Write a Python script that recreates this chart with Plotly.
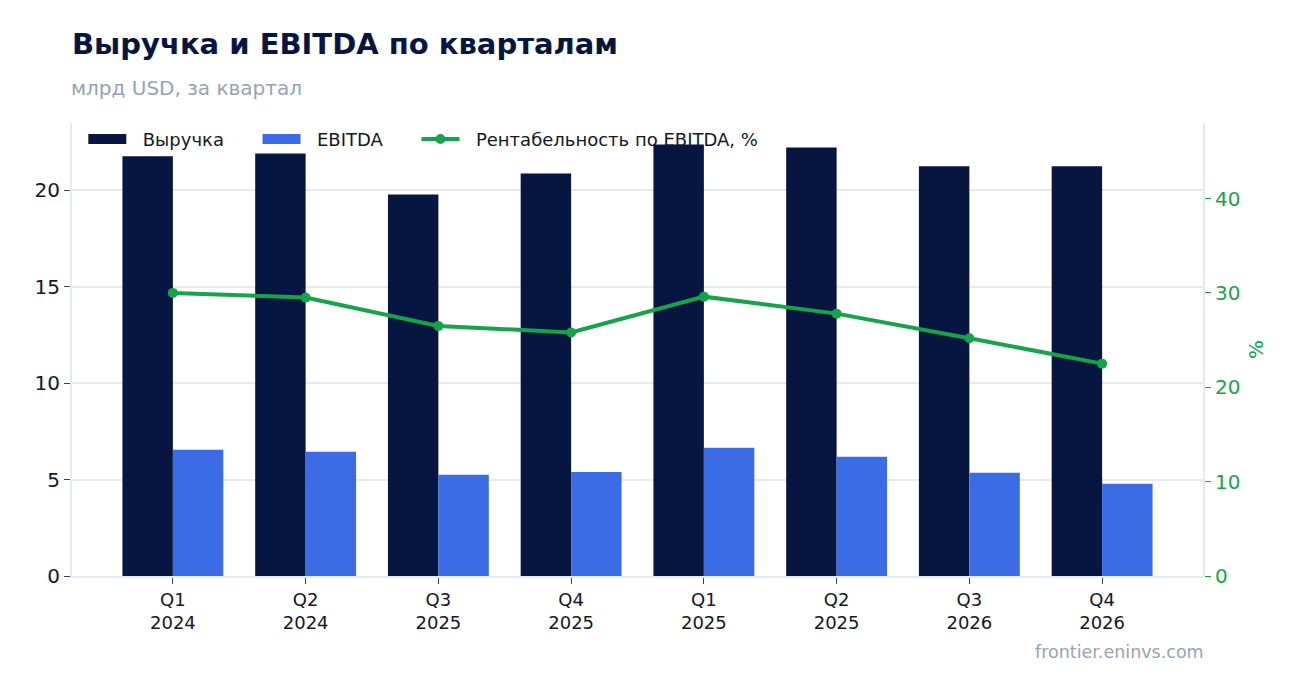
import plotly.graph_objects as go

quarters = ["Q1<br>2024", "Q2<br>2024", "Q3<br>2025", "Q4<br>2025",
            "Q1<br>2025", "Q2<br>2025", "Q3<br>2026", "Q4<br>2026"]
revenue = [21.77, 21.92, 19.79, 20.88, 22.39, 22.23, 21.25, 21.25]
ebitda = [6.55, 6.44, 5.25, 5.40, 6.65, 6.18, 5.35, 4.78]
margin = [30.0, 29.5, 26.5, 25.8, 29.6, 27.8, 25.2, 22.5]

NAVY = "#061640"
BLUE = "#3b6ce6"
GREEN = "#16a34a"
GRID = "#e5e9f0"
FONT = "DejaVu Sans"
NB = "\u00a0"

fig = go.Figure()
fig.add_trace(go.Bar(x=quarters, y=revenue, name="Выручка", marker_color=NAVY,
                     marker_line_width=0, showlegend=False))
fig.add_trace(go.Bar(x=quarters, y=ebitda, name="EBITDA", marker_color=BLUE,
                     marker_line_width=0, showlegend=False))
fig.add_trace(go.Scatter(x=quarters, y=margin, name="Рентабельность по EBITDA, %",
                         mode="lines+markers", yaxis="y2", showlegend=False,
                         line=dict(color=GREEN, width=4),
                         marker=dict(color=GREEN, size=10)))

# legend entries: wide rectangles for bars, line+marker for margin
fig.add_trace(go.Scatter(x=[None], y=[None], name=NB * 2 + "Выручка" + NB * 5, mode="lines",
                         line=dict(color=NAVY, width=13)))
fig.add_trace(go.Scatter(x=[None], y=[None], name=NB * 2 + "EBITDA" + NB * 5, mode="lines",
                         line=dict(color=BLUE, width=13)))
fig.add_trace(go.Scatter(x=[None], y=[None], name=NB * 2 + "Рентабельность по EBITDA, %",
                         mode="lines+markers", line=dict(color=GREEN, width=4),
                         marker=dict(color=GREEN, size=10)))

fig.update_layout(
    width=1302, height=693,
    paper_bgcolor="white", plot_bgcolor="white",
    font=dict(family=FONT, color="#111827"),
    margin=dict(l=64, r=107, t=115, b=125),
    barmode="group", bargap=0.24, bargroupgap=0,
    title=dict(text="<b>Выручка и EBITDA по кварталам</b>", x=64 / 1302, xanchor="left",
               y=1 - 36 / 693, yanchor="middle",
               font=dict(size=29, color=NAVY, family=FONT)),
    legend=dict(orientation="h", x=0.01, y=1.005, xanchor="left", yanchor="top",
                itemwidth=38, font=dict(size=18, color="#111827"),
                bgcolor="rgba(0,0,0,0)"),
    xaxis=dict(range=[-0.76, 7.76], showline=True, linecolor=GRID, linewidth=2,
               ticks="outside", tickcolor="#374151", ticklen=6,
               tickfont=dict(size=18, color="#111827"), showgrid=False),
    yaxis=dict(range=[0, 23.5], dtick=5, showgrid=True, gridcolor=GRID, gridwidth=2,
               showline=True, linecolor=GRID, linewidth=2, zeroline=False,
               ticks="outside", tickcolor="#374151", ticklen=6,
               tickfont=dict(size=20, color="#111827")),
    yaxis2=dict(overlaying="y", side="right", range=[0, 48], dtick=10,
                showgrid=False, zeroline=False, showline=True, linecolor=GRID, linewidth=2,
                ticks="outside", tickcolor=GREEN, ticklen=6,
                tickfont=dict(size=20, color=GREEN),
                title=dict(text="%", font=dict(size=20, color=GREEN), standoff=10)),
    annotations=[
        dict(text="млрд USD, за квартал", xref="paper", yref="paper",
             x=-3 / 1131, y=(568 - 80) / 453, xanchor="left", yanchor="middle", showarrow=False,
             font=dict(size=20, color="#94a3b8", family=FONT)),
        dict(text="frontier.eninvs.com", xref="paper", yref="paper",
             x=1 + 3 / 1131, y=(568 - 644) / 453, xanchor="right", yanchor="middle",
             showarrow=False, font=dict(size=17.5, color="#94a3b8", family=FONT)),
    ],
)

fig.write_html("out.html")
